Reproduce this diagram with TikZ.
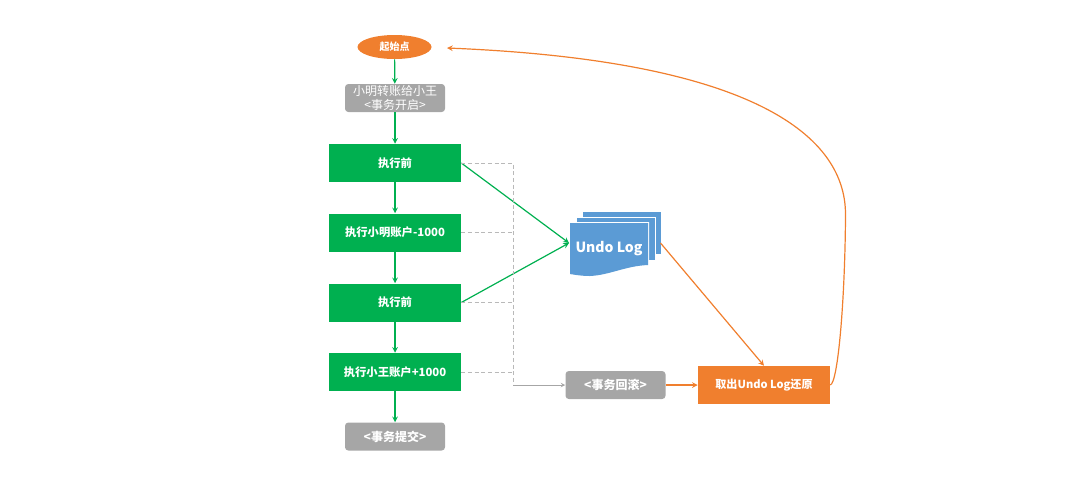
\documentclass[tikz,border=0pt]{standalone}
\usepackage{fontspec}
\usetikzlibrary{shapes.geometric}
\setmainfont{Noto Sans CJK SC}
\definecolor{stepgreen}{HTML}{00B050}
\definecolor{restoreorange}{HTML}{F07F2E}
\definecolor{phasegray}{HTML}{A6A6A6}
\definecolor{logblue}{HTML}{5B9BD5}
\begin{document}
\begin{tikzpicture}[
        x=0.75pt, y=-0.75pt,
        font=\fontsize{9pt}{11.5pt}\selectfont,
        stepbox/.style={rectangle, fill=stepgreen, text=white, minimum width=99pt, minimum height=28.5pt, inner sep=0pt, font=\fontsize{8.5pt}{11pt}\selectfont\bfseries},
        phase/.style={rectangle, rounded corners=2.5pt, fill=phasegray, text=white, minimum width=75pt, minimum height=21pt, inner sep=0pt, align=center},
        flow/.style={->, stepgreen, line width=0.9pt},
        undoline/.style={->, restoreorange, line width=0.9pt},
        guide/.style={gray!55, densely dashed, line width=0.5pt},
        >=stealth
    ]
        \useasboundingbox (0,0) rectangle (1080,487);

        % Start and begin
        \node[ellipse, fill=restoreorange, text=white, minimum width=55.5pt, minimum height=18pt, inner sep=0pt, font=\fontsize{7.5pt}{10pt}\selectfont\bfseries] (start) at (394.5,47) {起始点};
        \node[phase, minimum height=21pt, font=\fontsize{9pt}{10.5pt}\selectfont] (open) at (395,98) {小明转账给小王\\<事务开启>};

        % Green steps
        \foreach \name/\ypos/\body in {before1/163/执行前, deduct/232.5/执行小明账户-1000, before2/302.5/执行前, credit/372/执行小王账户+1000} {
            \node[stepbox] (\name) at (395,\ypos) {\body};
        }

        % Commit, rollback, restore
        \node[phase, font=\fontsize{9pt}{11pt}\selectfont\bfseries] (commit) at (395,436.5) {<事务提交>};
        \node[phase, font=\fontsize{9pt}{11pt}\selectfont\bfseries] (rollback) at (615.5,385) {<事务回滚>};
        \node[rectangle, fill=restoreorange, text=white, minimum width=99pt, minimum height=28.5pt, inner sep=0pt, font=\fontsize{8.3pt}{11pt}\selectfont\bfseries] (restore) at (764,385) {取出Undo Log还原};

        % Undo log sheets
        \fill[logblue] (583,212) -- (660.5,212) -- (660.5,254) -- (583,254) -- cycle;
        \fill[white] (576,216.5) -- (655.5,216.5) -- (655.5,261) -- (576,261) -- cycle;
        \fill[logblue] (577,217.5) -- (654.5,217.5) -- (654.5,260) -- (577,260) -- cycle;
        \fill[white] (569,222) -- (649,222) -- (649,266) -- (569,276) -- cycle;
        \fill[logblue] (570,223) -- (648,223) -- (648,265) .. controls (625,266) and (610,275) .. (590,276) .. controls (582,276) and (576,275) .. (570,274) -- cycle;
        \node[text=white, inner sep=0pt, font=\fontsize{10.5pt}{13pt}\selectfont\bfseries] (undo) at (609,249) {Undo Log};
        \coordinate (undoin) at (569,243);
        \coordinate (undoout) at (660.5,243);
        \coordinate (backtip) at (447,48);

        % Main flow
        \draw[flow] (start) -- (open);
        \draw[flow] (open) -- (before1);
        \draw[flow] (before1) -- (deduct);
        \draw[flow] (deduct) -- (before2);
        \draw[flow] (before2) -- (credit);
        \draw[flow] (credit) -- (commit);

        % Writes to the log
        \draw[flow] (before1.east) -- (undoin);
        \draw[flow] (before2.east) -- (undoin);

        % Dashed guides
        \coordinate (corner) at (513,385);
        \draw[guide] (before1.east) -- (513,163) -- (corner);
        \draw[guide] (deduct.east) -- (513,232.5);
        \draw[guide] (before2.east) -- (513,302.5);
        \draw[guide] (credit.east) -- (513,372);
        \draw[->, gray!70, line width=0.5pt] (corner) -- (rollback.west);

        % Recovery
        \draw[undoline] (rollback) -- (restore);
        \draw[undoline] (undoout) -- (restore.north);
        \draw[undoline] (restore.east) .. controls (838,383) and (845,300) .. (845.5,215) .. controls (846,130) and (740,60) .. (backtip);
    \end{tikzpicture}
\end{document}
